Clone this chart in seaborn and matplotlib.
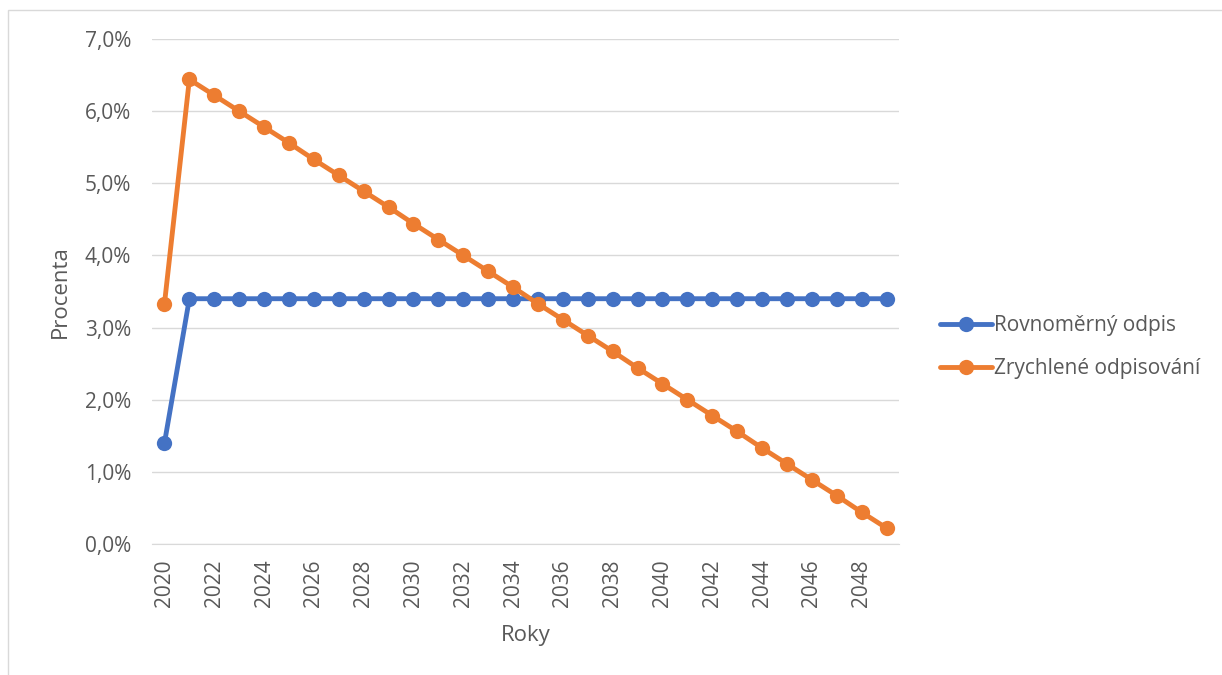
import pandas as pd
import seaborn as sns
from matplotlib import pyplot as plt
from matplotlib.patches import Rectangle

years = list(range(2020, 2050))
rovnomerny = [1.40] + [3.40] * 29
zrychlene = [3.33, 6.44, 6.22, 6.00, 5.78, 5.56, 5.33, 5.11, 4.89, 4.67,
             4.44, 4.22, 4.00, 3.78, 3.56, 3.33, 3.11, 2.89, 2.67, 2.44,
             2.22, 2.00, 1.78, 1.56, 1.33, 1.11, 0.89, 0.67, 0.44, 0.22]
series_names = ["Rovnoměrný odpis", "Zrychlené odpisování"]
y_ticks = [0, 1, 2, 3, 4, 5, 6, 7]

df = pd.concat([
    pd.DataFrame({"rok": years, "procenta": rovnomerny, "serie": series_names[0]}),
    pd.DataFrame({"rok": years, "procenta": zrychlene, "serie": series_names[1]}),
])

sns.set_style("white")
plt.rcParams["font.family"] = ["Open Sans", "DejaVu Sans"]

fig = plt.figure(figsize=(12.22, 6.75), dpi=100)
ax = fig.add_axes([0.1244, 0.1941, 0.6113, 0.7481])

# light frame around the chart area, like the Excel screenshot
fig.patches.append(Rectangle((8 / 1222, -0.1), 1.2, 1 - 10 / 675 + 0.1,
                             transform=fig.transFigure, fill=False,
                             edgecolor="#D9D9D9", linewidth=1))

sns.lineplot(
    data=df,
    x="rok",
    y="procenta",
    hue="serie",
    palette=["#4472C4", "#ED7D31"],
    marker="o",
    markersize=11,
    markeredgewidth=0,
    linewidth=3.5,
    ax=ax,
)

ax.set_xlim(2019.5, 2049.5)
ax.set_ylim(0, 7)
ax.set_yticks(y_ticks)
ax.set_yticklabels([f"{v},0%" for v in y_ticks])
ax.set_xticks(years[::2])
ax.set_xticklabels([str(y) for y in years[::2]], rotation=90)
ax.yaxis.grid(True, color="#D9D9D9", linewidth=1)
ax.set_axisbelow(True)
for s in ax.spines.values():
    s.set_visible(False)
ax.spines["bottom"].set_visible(True)
ax.spines["bottom"].set_color("#D9D9D9")
ax.tick_params(axis="both", length=0, labelsize=15, colors="#595959")
ax.tick_params(axis="y", pad=15)
ax.tick_params(axis="x", pad=11)

ax.set_xlabel("Roky", fontsize=16, color="#595959", labelpad=13)
ax.set_ylabel("Procenta", fontsize=16, color="#595959", labelpad=10)

ax.legend(
    loc="center left",
    bbox_to_anchor=(1.03, 0.39),
    frameon=False,
    fontsize=15,
    labelcolor="#595959",
    handlelength=2.5,
    handletextpad=0.1,
    labelspacing=1.05,
)

fig.savefig("out.png", dpi=100)
